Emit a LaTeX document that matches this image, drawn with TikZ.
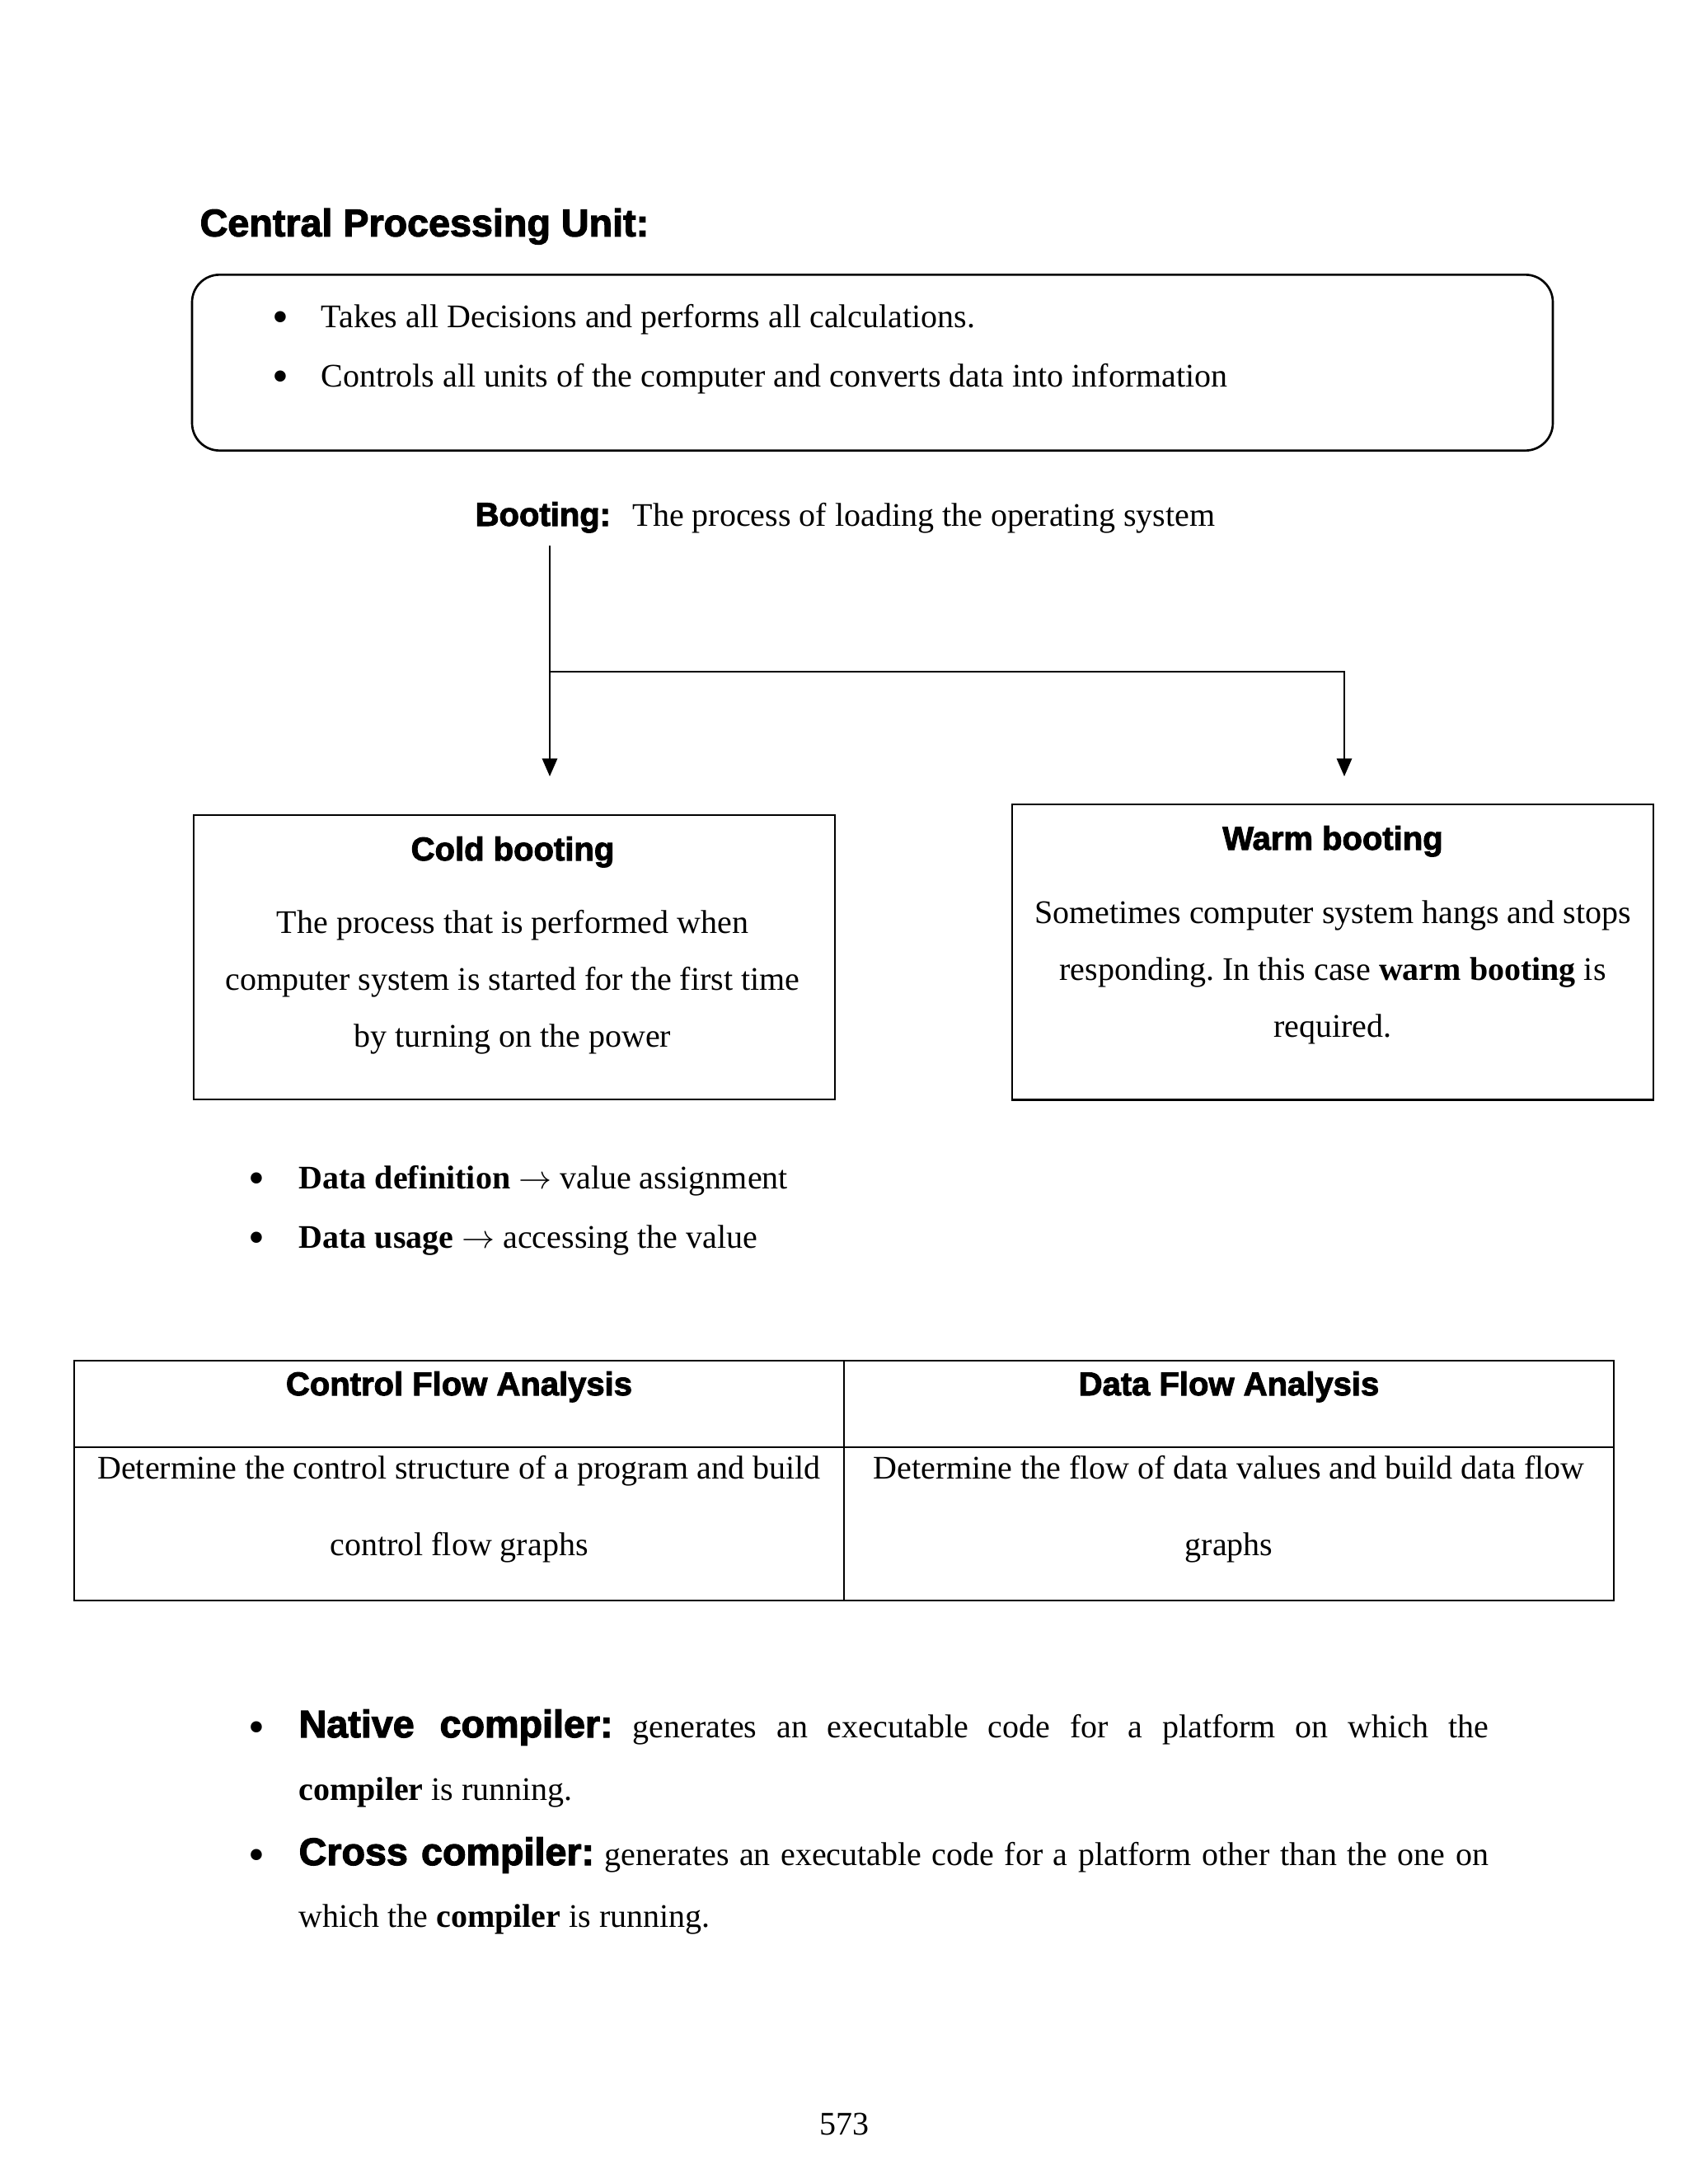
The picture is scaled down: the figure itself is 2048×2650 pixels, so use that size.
\documentclass[tikz,border=0pt]{standalone}
\usepackage{fontspec}
\setmainfont{Liberation Serif}
\newfontfamily\hdfont[FakeBold=2.5]{Liberation Sans}
\usetikzlibrary{arrows.meta}
\frenchspacing
\tikzset{
  txt/.style={inner sep=0pt, font=\fontsize{12}{14}\selectfont, text height=8.5pt, text depth=2.5pt},
  bul/.style={inner sep=0pt, font=\fontsize{17}{17}\selectfont},
  hd/.style={inner sep=0pt, font=\hdfont\bfseries\fontsize{12}{14}\selectfont, text height=8.5pt, text depth=2.5pt},
  hdbig/.style={inner sep=0pt, font=\hdfont\bfseries\fontsize{14}{16}\selectfont, text height=10pt, text depth=3pt},
  para/.style={inner sep=0pt, align=center},
  boxnode/.style={draw, line width=0.8pt, inner sep=0pt},
  conn/.style={line width=0.6pt},
  arr/.style={conn, -{Triangle[length=6.5pt,width=5.5pt]}},
  rule/.style={line width=0.7pt},
}
\newcommand{\hdtext}[1]{{\hdfont\bfseries\fontsize{14}{16}\selectfont #1}}
\begin{document}
\frenchspacing
\begin{tikzpicture}[x=0.3pt,y=-0.3pt]
\fill[white] (0,0) rectangle (2048,2650);
\useasboundingbox (0,0) rectangle (2048,2650);

% Title
\node[hdbig, anchor=west] (title) at (242,275) {Central Processing Unit:};

% CPU box
\node[boxnode, rounded corners=10pt, minimum width=495.3pt, minimum height=64pt] (cpu) at (1058.5,440) {};
\node[bul] (b1) at (340,391) {\textbullet};
\node[txt, anchor=west] (cpu1) at (389,387) {Takes all Decisions and performs all calculations.};
\node[bul] (b2) at (340,463) {\textbullet};
\node[txt, anchor=west] (cpu2) at (389,459) {Controls all units of the computer and converts data into information};

% Booting
\node[hd, anchor=west] (boot) at (576,628) {Booting:};
\node[txt, anchor=west] (bootdesc) at (767,628) {The process of loading the operating system};

\coordinate (top) at (667,662);
\coordinate (split) at (667,815);
\coordinate (endL) at (667,942);
\coordinate (endR) at (1631,942);
\draw[arr] (top) -- (endL);
\draw[arr] (split) -| (endR);

% Cold booting box
\node[boxnode, minimum width=233.4pt, minimum height=103.5pt] (cold) at (624,1161.5) {};
\node[hd] (coldt) at (622,1034) {Cold booting};
\node[para, font=\fontsize{12}{20.7}\selectfont] (coldx) at (622,1192) {The process that is performed when\\computer system is started for the first time\\by turning on the power};

% Warm booting box
\node[boxnode, minimum width=233.4pt, minimum height=107.5pt] (warm) at (1617,1155) {};
\node[hd] (warmt) at (1617,1021) {Warm booting};
\node[para, font=\fontsize{12}{20.7}\selectfont] (warmx) at (1617,1180) {Sometimes computer system hangs and stops\\responding. In this case \textbf{warm booting} is\\required.};

% Data bullets
\node[bul] (b3) at (311,1436) {\textbullet};
\node[txt, anchor=west] (d1) at (362,1432) {\textbf{Data definition} $\rightarrow$ value assignment};
\node[bul] (b4) at (311,1508) {\textbullet};
\node[txt, anchor=west] (d2) at (362,1504) {\textbf{Data usage} $\rightarrow$ accessing the value};

% Table
\draw[rule] (90,1651) rectangle (1958,1942);
\draw[rule] (90,1756) -- (1958,1756);
\draw[rule] (1024,1651) -- (1024,1942);
\node[hd] (th1) at (557,1683) {Control Flow Analysis};
\node[hd] (th2) at (1491,1683) {Data Flow Analysis};
\node[para, font=\fontsize{12}{27.9}\selectfont] (tc1) at (557,1831) {Determine the control structure of a program and build\\control flow graphs};
\node[para, font=\fontsize{12}{27.9}\selectfont] (tc2) at (1491,1831) {Determine the flow of data values and build data flow\\graphs};

% Compilers
\node[bul] (b5) at (311,2102) {\textbullet};
\node[txt, anchor=west] (n1) at (362,2098) {\makebox[433pt][s]{\hdtext{Native compiler:} generates an executable code for a platform on which the}};
\node[txt, anchor=west] (n2) at (362,2174) {\textbf{compiler} is running.};
\node[bul] (b6) at (311,2257) {\textbullet};
\node[txt, anchor=west] (c1) at (362,2253) {\makebox[433pt][s]{\hdtext{Cross compiler:} generates an executable code for a platform other than the one on}};
\node[txt, anchor=west] (c2) at (362,2328) {which the \textbf{compiler} is running.};

% Page number
\node[txt] (page) at (1024,2580) {573};
\end{tikzpicture}
\end{document}
